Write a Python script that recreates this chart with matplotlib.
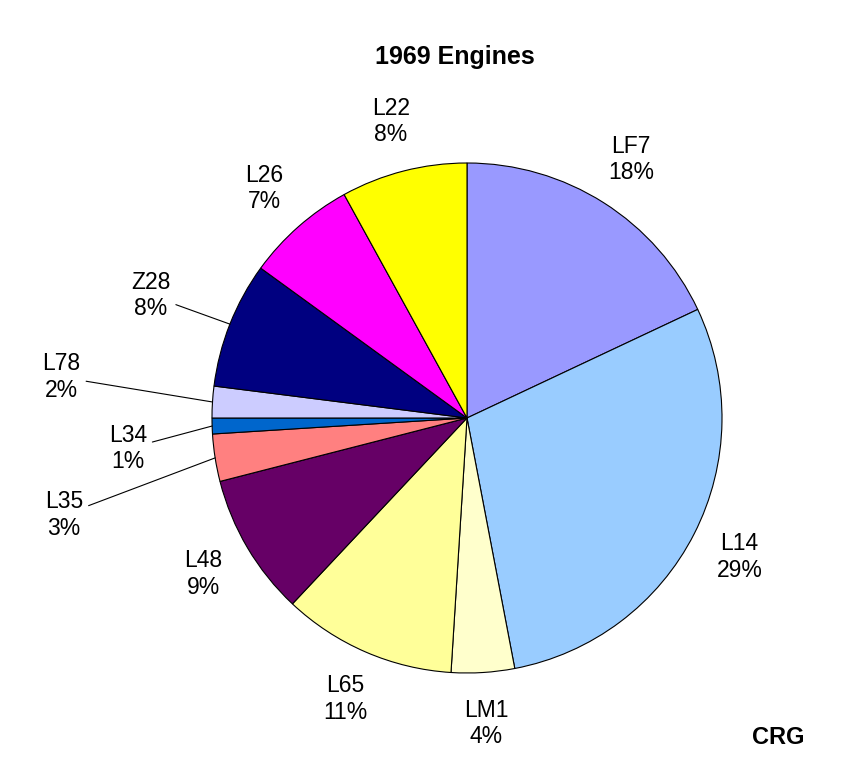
import numpy as np
import matplotlib.pyplot as plt

plt.rcParams['font.family'] = ['Liberation Sans', 'DejaVu Sans']

engines = ["LF7", "L14", "LM1", "L65", "L48", "L35", "L34", "L78", "Z28", "L26", "L22"]
shares = [18, 29, 4, 11, 9, 3, 1, 2, 8, 7, 8]
colors = ["#9999ff", "#99ccff", "#ffffcc", "#ffff99", "#660066", "#ff8080",
          "#0066cc", "#ccccff", "#000080", "#ff00ff", "#ffff00"]

# labels pulled out with a leader line (text position in radius units)
callouts = {"Z28": (-1.24, 0.48), "L78": (-1.59, 0.16),
            "L34": (-1.33, -0.12), "L35": (-1.58, -0.38)}

fig = plt.figure(figsize=(8.5, 7.8), dpi=100)
ax = fig.add_axes([0, 0, 1, 1])
R = 255.0
cx, cy = 467, 418
ax.axis("off")

wedges, _ = ax.pie(shares, colors=colors, startangle=90, counterclock=False,
                   radius=1.0, wedgeprops=dict(edgecolor="black", linewidth=0.8))
ax.set_xlim(-cx / R, (850 - cx) / R)
ax.set_ylim(-(780 - cy) / R, cy / R)
ax.set_aspect("auto")

total = sum(shares)
for w, name, val in zip(wedges, engines, shares):
    mid = np.deg2rad((w.theta1 + w.theta2) / 2)
    txt = f"{name}\n{round(100 * val / total)}%"
    if name in callouts:
        tx, ty = callouts[name]
        ax.annotate(txt, xy=(np.cos(mid), np.sin(mid)), xytext=(tx, ty),
                    ha="center", va="center", fontsize=16.5, linespacing=1.2,
                    arrowprops=dict(arrowstyle="-", color="black", lw=0.8,
                                    shrinkA=2, shrinkB=0))
    else:
        ax.text(1.2 * np.cos(mid), 1.2 * np.sin(mid), txt, ha="center",
                va="center", fontsize=16.5, linespacing=1.2)

fig.text(455 / 850, 1 - 57 / 780, "1969 Engines", ha="center", va="center",
         fontsize=18, fontweight="bold")
fig.text(778 / 850, 1 - 737 / 780, "CRG", ha="center", va="center",
         fontsize=17, fontweight="bold")

fig.savefig("out.png", dpi=100)
